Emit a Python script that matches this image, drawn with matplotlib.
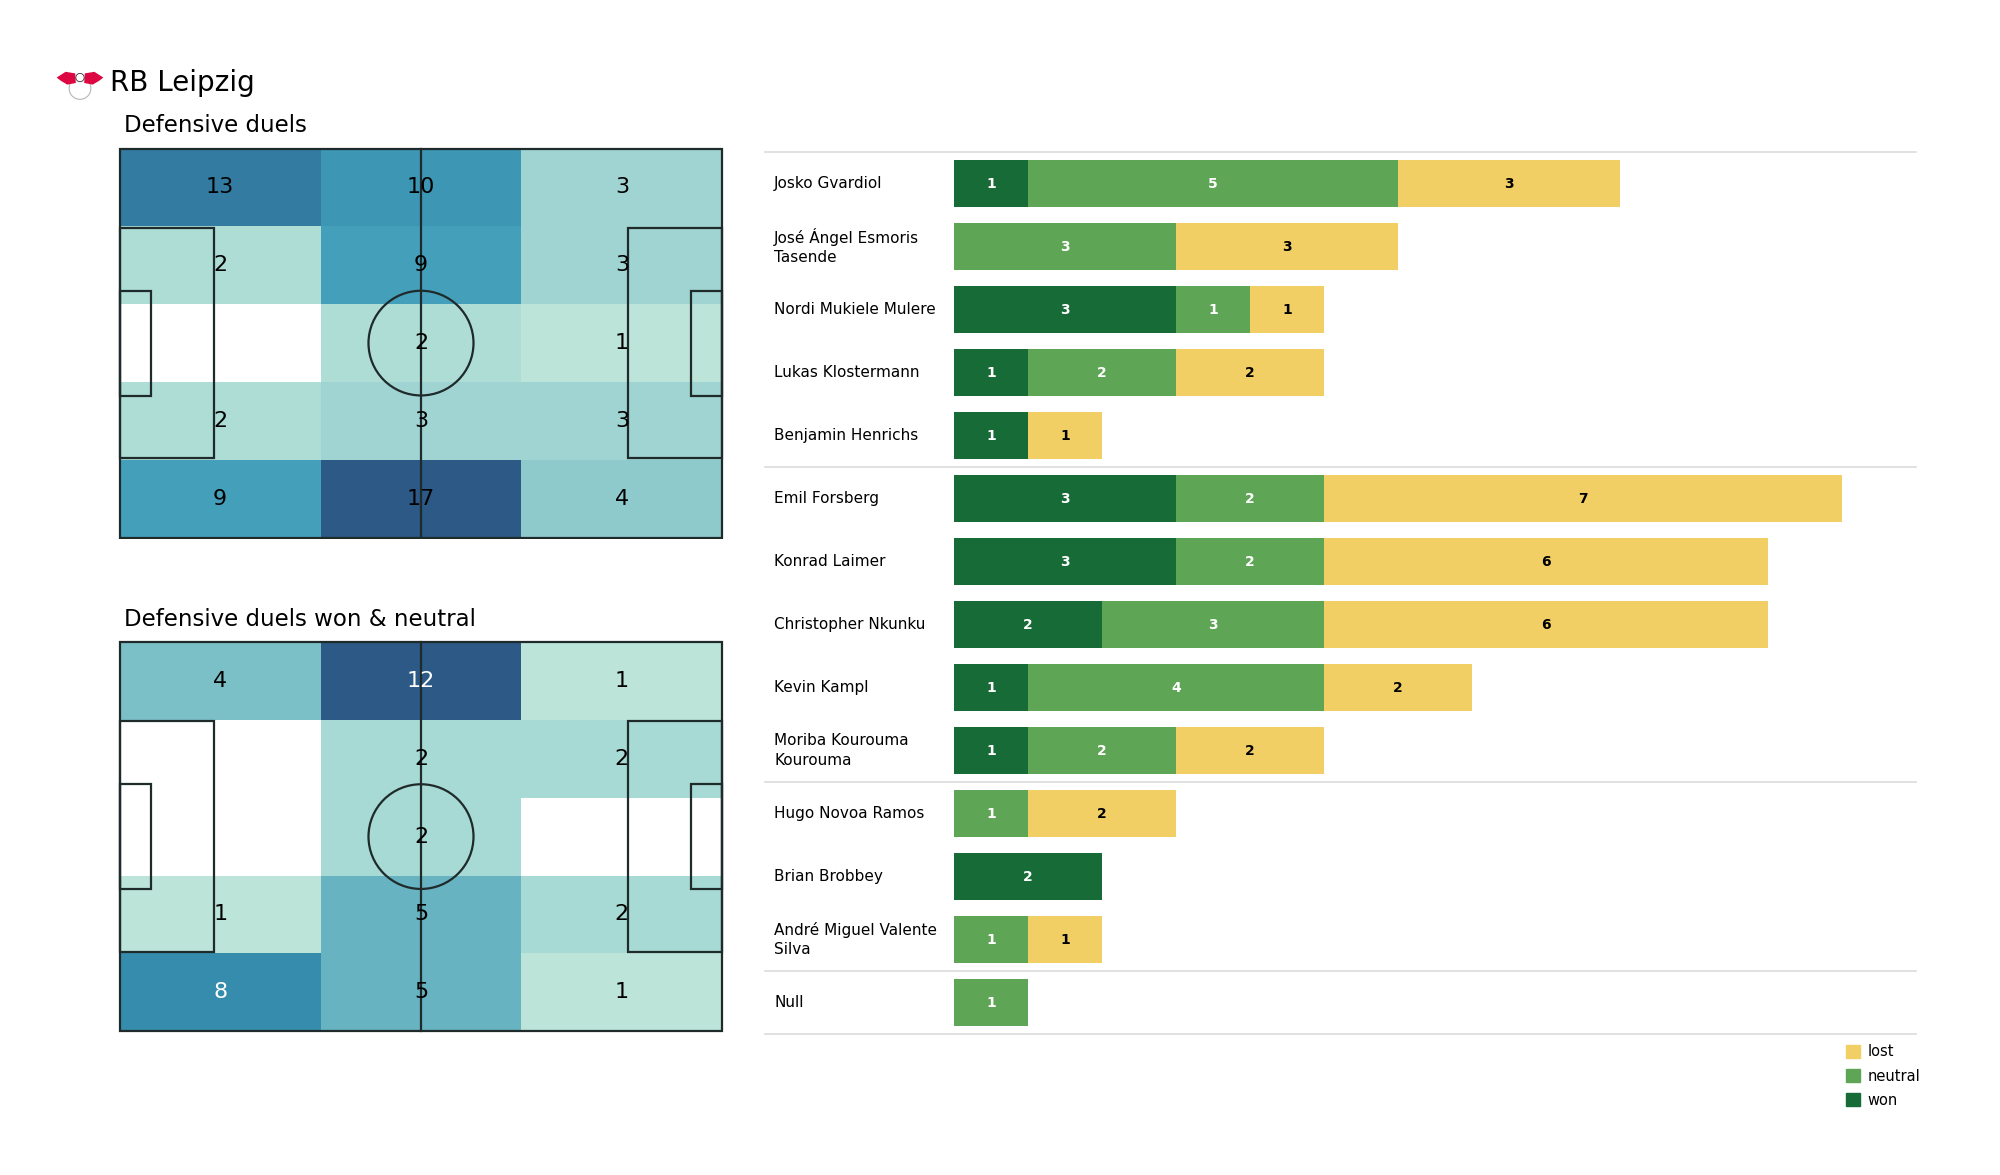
import textwrap
import numpy as np
import matplotlib
matplotlib.use("Agg")
import matplotlib.pyplot as plt
from matplotlib.colors import LinearSegmentedColormap
from matplotlib.patches import Rectangle, Circle, Polygon, Patch

# heatmap counts, rows listed top to bottom, columns left to right
duels = [[13, 10, 3],
         [2, 9, 3],
         [0, 2, 1],
         [2, 3, 3],
         [9, 17, 4]]
duels_won_neutral = [[4, 12, 1],
                     [0, 2, 2],
                     [0, 2, 0],
                     [1, 5, 2],
                     [8, 5, 1]]

players = ["Josko Gvardiol", "José Ángel Esmoris Tasende", "Nordi Mukiele Mulere",
           "Lukas Klostermann", "Benjamin Henrichs", "Emil Forsberg", "Konrad Laimer",
           "Christopher Nkunku", "Kevin Kampl", "Moriba Kourouma Kourouma",
           "Hugo Novoa Ramos", "Brian Brobbey", "André Miguel Valente Silva", "Null"]
won = [1, 0, 3, 1, 1, 3, 3, 2, 1, 1, 0, 2, 0, 0]
neutral = [5, 3, 1, 2, 0, 2, 2, 3, 4, 2, 1, 0, 1, 1]
lost = [3, 3, 1, 2, 1, 7, 6, 6, 2, 2, 2, 0, 1, 0]
group_ends = [5, 10, 13]  # separator lines after these rows

C_WON = "#166b36"
C_NEUTRAL = "#5fa556"
C_LOST = "#f1cf65"

cmap = LinearSegmentedColormap.from_list("duels", [
    (0.0, "#bde4d9"), (0.09, "#a8dad5"), (0.19, "#8ecacc"), (0.36, "#68b4c2"),
    (0.5, "#44a0ba"), (0.64, "#348bac"), (0.75, "#337ba0"), (1.0, "#2c5985")])

fig = plt.figure(figsize=(20, 11.75), dpi=100)

LENGTH, WIDTH = 105, 68
LINE = "#1f2a2a"


def draw_pitch(ax, counts, white_from=None):
    counts = np.array(counts, dtype=float)
    xe = np.linspace(0, LENGTH, counts.shape[1] + 1)
    ye = np.linspace(0, WIDTH, counts.shape[0] + 1)
    vals = np.ma.masked_where(counts == 0, counts)
    ax.pcolormesh(xe, ye, vals, cmap=cmap, vmin=1, vmax=counts.max(), zorder=1)
    for i in range(counts.shape[0]):
        for j in range(counts.shape[1]):
            v = counts[i, j]
            if v == 0:
                continue
            col = "white" if white_from is not None and v / counts.max() >= white_from else "black"
            ax.text((xe[j] + xe[j + 1]) / 2, (ye[i] + ye[i + 1]) / 2, f"{int(v)}",
                    ha="center", va="center", fontsize=16, color=col, zorder=3)
    kw = dict(fill=False, ec=LINE, lw=1.6, zorder=2)
    ax.add_patch(Rectangle((0, 0), LENGTH, WIDTH, **kw))
    ax.plot([LENGTH / 2, LENGTH / 2], [0, WIDTH], color=LINE, lw=1.6, zorder=2)
    ax.add_patch(Circle((LENGTH / 2, WIDTH / 2), 9.15, **kw))
    for x0, sign in [(0, 1), (LENGTH, -1)]:
        ax.add_patch(Rectangle((x0, WIDTH / 2 - 20.16), sign * 16.5, 40.32, **kw))
        ax.add_patch(Rectangle((x0, WIDTH / 2 - 9.16), sign * 5.5, 18.32, **kw))
    ax.set_xlim(-0.3, LENGTH + 0.3)
    ax.set_ylim(WIDTH + 0.3, -0.3)
    ax.axis("off")


ax1 = fig.add_axes([0.059, 0.541, 0.303, 0.334])
draw_pitch(ax1, duels)
ax2 = fig.add_axes([0.059, 0.121, 0.303, 0.334])
draw_pitch(ax2, duels_won_neutral, white_from=0.6)

fig.text(0.055, 0.929, "RB Leipzig", fontsize=20, va="center", ha="left")
fig.text(0.062, 0.893, "Defensive duels", fontsize=16.5, va="center", ha="left")
fig.text(0.062, 0.4725, "Defensive duels won & neutral", fontsize=16.5, va="center", ha="left")

# rough club badge
lax = fig.add_axes([0.028, 0.911, 0.024, 0.034])
lax.set_xlim(0, 1.5)
lax.set_ylim(0, 1)
lax.set_aspect("equal")
lax.axis("off")
lax.add_patch(Circle((0.75, 0.38), 0.34, fc="white", ec="#b5b5b5", lw=0.8))
lax.add_patch(Polygon([[0.02, 0.72], [0.3, 0.9], [0.6, 0.85], [0.62, 0.55],
                       [0.35, 0.5], [0.15, 0.62]], fc="#dd0741"))
lax.add_patch(Polygon([[1.48, 0.72], [1.2, 0.9], [0.9, 0.85], [0.88, 0.55],
                       [1.15, 0.5], [1.35, 0.62]], fc="#dd0741"))
lax.add_patch(Circle((0.75, 0.72), 0.13, fc="white", ec="#333333", lw=0.6))

# stacked bars
bax = fig.add_axes([0.477, 0.12, 0.481, 0.7506])
y = np.arange(len(players))
won_a, neu_a, lost_a = np.array(won), np.array(neutral), np.array(lost)
segments = [(won_a, np.zeros(len(y)), C_WON, "white"),
            (neu_a, won_a, C_NEUTRAL, "white"),
            (lost_a, won_a + neu_a, C_LOST, "black")]
for vals, left, col, tcol in segments:
    bax.barh(y, vals, left=left, color=col, height=0.74, zorder=2)
    for yi, v, l in zip(y, vals, left):
        if v > 0:
            bax.text(l + v / 2, yi, str(v), ha="center", va="center",
                     fontsize=10, fontweight="bold", color=tcol, zorder=3)

bax.set_xlim(0, 13)
bax.set_ylim(len(players) - 0.5, -0.5)
bax.axis("off")

tr = bax.get_yaxis_transform()
for yl in [-0.5] + [g - 0.5 for g in group_ends] + [len(players) - 0.5]:
    bax.plot([-0.196, 1.0], [yl, yl], color="#dcdcdc", lw=1.2, transform=tr,
             clip_on=False, zorder=1)
for yi, name in zip(y, players):
    bax.text(-0.187, yi, textwrap.fill(name, 20), transform=tr, ha="left", va="center",
             fontsize=11, linespacing=1.4)

handles = [Patch(color=C_LOST, label="lost"), Patch(color=C_NEUTRAL, label="neutral"),
           Patch(color=C_WON, label="won")]
fig.legend(handles=handles, loc="upper right", bbox_to_anchor=(0.966, 0.121),
           frameon=False, fontsize=10.5, handlelength=1.0, handleheight=1.0,
           handletextpad=0.5, labelspacing=0.62, borderpad=0.3)

fig.savefig("out.png", dpi=100)
